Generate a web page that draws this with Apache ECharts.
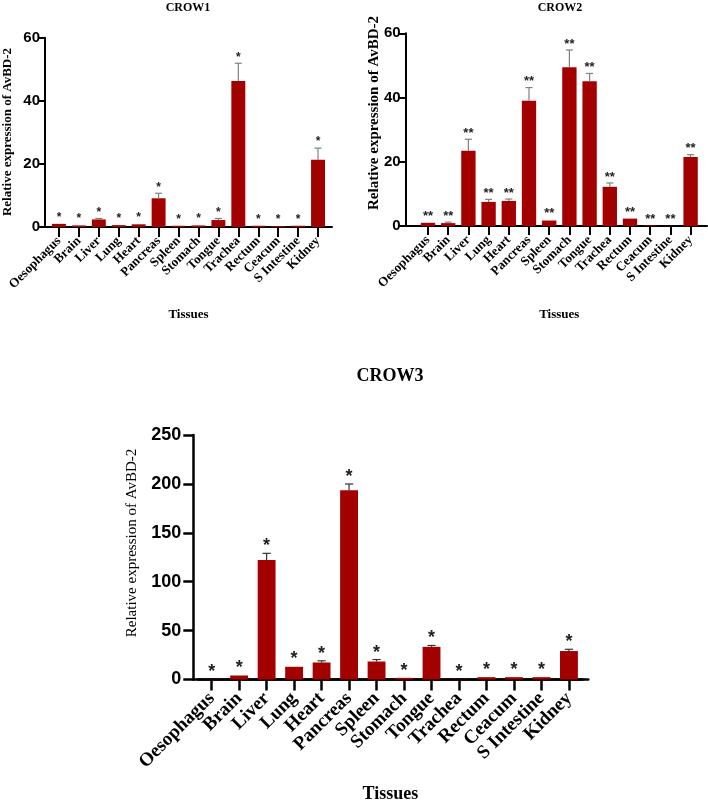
<!DOCTYPE html>
<html>
<head>
<meta charset="utf-8">
<script src="https://cdn.jsdelivr.net/npm/echarts@6/dist/echarts.min.js"></script>
<style>
html,body{margin:0;padding:0;background:#fff;}
#chart{width:708px;height:800px;}
</style>
</head>
<body>
<div id="chart"></div>
<script>
// ---------------- DATA ----------------
var categories = ['Oesophagus','Brain','Liver','Lung','Heart','Pancreas','Spleen','Stomach','Tongue','Trachea','Rectum','Ceacum','S Intestine','Kidney'];

var crow1Means  = [1.0, 0.5, 2.4, 0.6, 0.85, 9.1, 0.4, 0.5, 2.2, 46.3, 0.4, 0.3, 0.4, 21.3];
var crow1Errors = [0.1, 0.1, 0.3, 0.1, 0.2, 1.6, 0.1, 0.1, 0.5, 5.6, 0.1, 0.1, 0.1, 3.7];
var crow1Mark = '*';

var crow2Means  = [1.0, 0.9, 23.4, 7.5, 7.8, 39.0, 1.7, 49.4, 45.1, 12.2, 2.3, 0.2, 0.05, 21.5];
var crow2Errors = [0.1, 0.3, 3.6, 0.8, 0.6, 4.1, 0.2, 5.4, 2.4, 1.2, 0.2, 0.1, 0.0, 0.7];
var crow2Mark = '**';

var crow3Means  = [0.2, 4.1, 122.2, 13.0, 17.4, 193.5, 18.4, 1.7, 33.4, 0.2, 2.4, 2.4, 2.4, 29.1];
var crow3Errors = [0.0, 0.7, 6.8, 0.6, 1.7, 6.4, 2.0, 0.3, 1.4, 0.0, 0.3, 0.3, 0.3, 1.8];
var crow3Mark = '*';

var crow1Ticks = [0, 20, 40, 60];
var crow2Ticks = [0, 20, 40, 60];
var crow3Ticks = [0, 50, 100, 150, 200, 250];

var chartTitles = ['CROW1', 'CROW2', 'CROW3'];
var xAxisName = 'Tissues';
var yAxisName = 'Relative expression of AvBD-2';

// ---------------- LAYOUT / STYLE ----------------
var SERIF = '"Liberation Serif", "Times New Roman", serif';
var SANS = '"Liberation Sans", Arial, sans-serif';
var BAR_COLOR = '#a30000';

var panels = [
  {title: chartTitles[0], titleX: 188, titleY: 8, titleSize: 12,
   axisX: 45, axisEnd: 332, top: 37.7, bottom: 227, catLeft: 49, catWidth: 279,
   ticks: crow1Ticks, tickFont: 15, tickMargin: 5, yTickLen: 7, xTickLen: 10, axisW: 2,
   labelFont: 13, labelMargin: 12, nameFont: 13, nameGap: 81,
   yName: {x: 8, y: 132, size: 13, weight: 'bold'},
   gap: '30%', errColor: '#808080', capRatio: 0.35, starSize: 12, starGap: 6,
   means: crow1Means, errs: crow1Errors, mark: crow1Mark},
  {title: chartTitles[1], titleX: 560, titleY: 8, titleSize: 12,
   axisX: 405.7, axisEnd: 707, top: 33.3, bottom: 226, catLeft: 417.9, catWidth: 282.8,
   ticks: crow2Ticks, tickFont: 15, tickMargin: 5, yTickLen: 7, xTickLen: 9, axisW: 2,
   labelFont: 13, labelMargin: 12, nameFont: 13, nameGap: 82,
   yName: {x: 374, y: 113, size: 15, weight: 'bold'},
   gap: '29%', errColor: '#808080', capRatio: 0.35, starSize: 13, starGap: 6,
   means: crow2Means, errs: crow2Errors, mark: crow2Mark},
  {title: chartTitles[2], titleX: 390, titleY: 376, titleSize: 18,
   axisX: 193.3, axisEnd: 588.3, top: 435, bottom: 679.5, catLeft: 197.9, catWidth: 384.8,
   ticks: crow3Ticks, tickFont: 18, tickMargin: 12, yTickLen: 10, xTickLen: 11, axisW: 2.5,
   labelFont: 19, labelMargin: 16, nameFont: 18, nameGap: 106,
   yName: {x: 132, y: 543, size: 15, weight: 'normal'},
   gap: '35%', errColor: '#333333', capRatio: 0.3, starSize: 18, starGap: 7,
   means: crow3Means, errs: crow3Errors, mark: crow3Mark}
];

var grids = [], xAxes = [], yAxes = [], series = [], graphics = [];

panels.forEach(function (p, k) {
  var yMin = p.ticks[0], yMax = p.ticks[p.ticks.length - 1], yInt = p.ticks[1] - p.ticks[0];
  var h = p.bottom - p.top;
  // grid 2k: axis frame ; grid 2k+1: category bars
  grids.push({left: p.axisX, top: p.top, width: p.axisEnd - p.axisX, height: h, containLabel: false, outerBoundsMode: 'none'});
  grids.push({left: p.catLeft, top: p.top, width: p.catWidth, height: h, containLabel: false, outerBoundsMode: 'none'});

  xAxes.push({gridIndex: 2 * k, type: 'value', min: 0, max: 1,
    axisLine: {show: true, onZero: false, lineStyle: {color: '#000', width: p.axisW}},
    axisTick: {show: false}, axisLabel: {show: false}, splitLine: {show: false}});
  yAxes.push({gridIndex: 2 * k, type: 'value', min: yMin, max: yMax, interval: yInt,
    axisLine: {show: true, onZero: false, lineStyle: {color: '#000', width: p.axisW}},
    axisTick: {show: true, length: p.yTickLen, lineStyle: {color: '#000', width: p.axisW}},
    axisLabel: {show: true, margin: p.tickMargin, color: '#000', fontFamily: SANS, fontWeight: 'bold', fontSize: p.tickFont},
    splitLine: {show: false}});

  xAxes.push({gridIndex: 2 * k + 1, type: 'category', data: categories,
    axisLine: {show: true, onZero: false, lineStyle: {color: '#000', width: p.axisW}},
    axisTick: {show: true, alignWithLabel: true, length: p.xTickLen, lineStyle: {color: '#000', width: p.axisW}},
    axisLabel: {show: true, interval: 0, rotate: 45, margin: p.labelMargin, color: '#000',
      fontFamily: SERIF, fontWeight: 'bold', fontSize: p.labelFont},
    name: xAxisName, nameLocation: 'middle', nameGap: p.nameGap,
    nameTextStyle: {fontFamily: SERIF, fontWeight: 'bold', fontSize: p.nameFont, color: '#000'}});
  yAxes.push({gridIndex: 2 * k + 1, type: 'value', min: yMin, max: yMax, interval: yInt, show: false});

  series.push({type: 'bar', xAxisIndex: 2 * k + 1, yAxisIndex: 2 * k + 1,
    data: p.means, barCategoryGap: p.gap, itemStyle: {color: BAR_COLOR}, z: 2, animation: false});

  var errData = p.means.map(function (m, i) { return [i, m, m + p.errs[i]]; });
  series.push({type: 'custom', xAxisIndex: 2 * k + 1, yAxisIndex: 2 * k + 1, data: errData,
    z: 3, clip: false, animation: false,
    encode: {x: 0, y: 2},
    renderItem: function (params, api) {
      var i = api.value(0), mean = api.value(1), top = api.value(2);
      var pb = api.coord([i, mean]);
      var pt = api.coord([i, top]);
      var bw = api.size([1, 0])[0];
      var cap = bw * p.capRatio / 2;
      var children = [];
      if (pb[1] - pt[1] > 0.8) {
        children.push({type: 'line', shape: {x1: pt[0], y1: pb[1], x2: pt[0], y2: pt[1]},
          style: {stroke: p.errColor, lineWidth: 1.2}});
        children.push({type: 'line', shape: {x1: pt[0] - cap, y1: pt[1], x2: pt[0] + cap, y2: pt[1]},
          style: {stroke: p.errColor, lineWidth: 1.2}});
      }
      children.push({type: 'text', style: {text: p.mark, x: pt[0], y: pt[1] - p.starGap,
        align: 'center', verticalAlign: 'middle', textAlign: 'center', textVerticalAlign: 'middle',
        fontFamily: SANS, fontWeight: 'bold', fontSize: p.starSize, fill: '#222'}});
      return {type: 'group', children: children};
    }});

  graphics.push({type: 'text', x: p.titleX, y: p.titleY, style: {text: p.title,
    align: 'center', verticalAlign: 'middle', textAlign: 'center', textVerticalAlign: 'middle',
    fontFamily: SERIF, fontWeight: 'bold', fontSize: p.titleSize, fill: '#000'}});
  graphics.push({type: 'text', x: p.yName.x, y: p.yName.y, rotation: Math.PI / 2, style: {text: yAxisName,
    align: 'center', verticalAlign: 'middle', textAlign: 'center', textVerticalAlign: 'middle',
    fontFamily: SERIF, fontWeight: p.yName.weight, fontSize: p.yName.size, fill: '#000'}});
});

var chart = echarts.init(document.getElementById('chart'), null, {renderer: 'canvas'});
chart.setOption({
  animation: false,
  backgroundColor: '#ffffff',
  grid: grids,
  xAxis: xAxes,
  yAxis: yAxes,
  series: series,
  graphic: graphics
});
</script>
</body>
</html>
